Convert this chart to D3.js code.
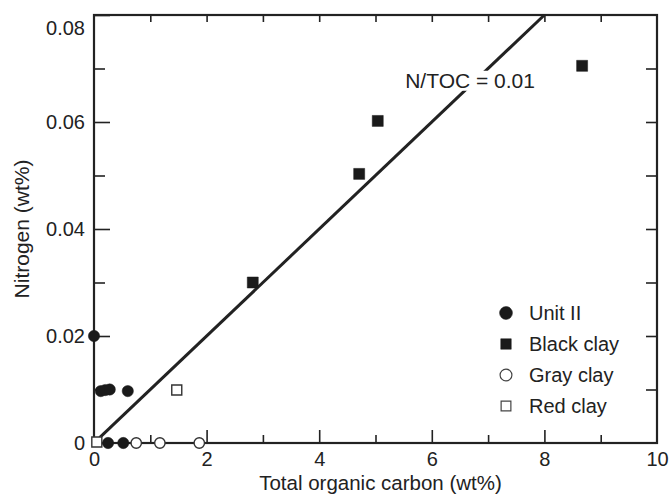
<!DOCTYPE html>
<html>
<head>
<meta charset="utf-8">
<script src="https://cdn.jsdelivr.net/npm/d3@7"></script>
<style>
  html, body { margin: 0; padding: 0; background: #fff; }
  svg { display: block; }
  text { font-family: "Liberation Sans", Arial, Helvetica, sans-serif; fill: #222; }
</style>
</head>
<body>
<svg id="chart" width="670" height="494"></svg>
<script>
// Total organic carbon (wt%) vs nitrogen (wt%) by lithology
const unitII    = [[0, 0.02], [0.12, 0.0097], [0.2, 0.0099], [0.28, 0.0100], [0.6, 0.0097], [0.25, 0], [0.52, 0]];
const blackClay = [[2.82, 0.030], [4.71, 0.0503], [5.04, 0.0602], [8.67, 0.0705]];
const grayClay  = [[0.75, 0], [1.17, 0], [1.87, 0]];
const redClay   = [[0.05, 0.0002], [1.47, 0.0099]];

const ratioLine = [[0.1, 0.001], [8, 0.08]];   // N/TOC = 0.01
const ratioLabel = "N/TOC = 0.01";

const xMajor = [0, 2, 4, 6, 8, 10];
const xMajorLabels = ["0", "2", "4", "6", "8", "10"];
const xMinor = [1, 3, 5, 7, 9];
const yMajor = [0, 0.02, 0.04, 0.06, 0.08];
const yMajorLabels = ["0", "0.02", "0.04", "0.06", "0.08"];
const yMinor = [0.01, 0.03, 0.05, 0.07];
const topTicks = [1, 2, 3, 4, 5, 6, 7, 8, 9];
const rightTicks = [0.01, 0.02, 0.03, 0.04, 0.05, 0.06, 0.07];

const legendNames = ["Unit II", "Black clay", "Gray clay", "Red clay"];

const svg = d3.select("#chart");
const x = d3.scaleLinear().domain([0, 10]).range([94, 657]);
const y = d3.scaleLinear().domain([0, 0.08]).range([443, 15]);

const ink = "#222";

function styleAxis(g) {
  g.selectAll(".tick line").attr("stroke", ink).attr("stroke-width", 1.6);
  g.selectAll(".tick text").attr("font-size", 20).attr("fill", ink)
    .style("font-family", '"Liberation Sans", Arial, sans-serif');
  g.select(".domain").remove();
}

// left axis: major + minor, ticks pointing inward
svg.append("g").attr("transform", `translate(${x(0)},0)`)
  .call(d3.axisLeft(y).tickValues(yMajor).tickSize(-16).tickPadding(9)
    .tickFormat((d, i) => yMajorLabels[i]))
  .call(styleAxis)
  .call(g => g.selectAll(".tick text").filter(d => d === 0.08).attr("dy", "0.32em").attr("y", 13));
svg.append("g").attr("transform", `translate(${x(0)},0)`)
  .call(d3.axisLeft(y).tickValues(yMinor).tickSize(-11).tickFormat(""))
  .call(styleAxis);

// right axis ticks
svg.append("g").attr("transform", `translate(${x(10)},0)`)
  .call(d3.axisRight(y).tickValues(rightTicks).tickSize(-11).tickFormat(""))
  .call(styleAxis);

// bottom axis
svg.append("g").attr("transform", `translate(0,${y(0)})`)
  .call(d3.axisBottom(x).tickValues(xMajor).tickSize(-13).tickPadding(7)
    .tickFormat((d, i) => xMajorLabels[i]))
  .call(styleAxis)
  .call(g => g.selectAll(".tick line").filter(d => d === 0 || d === 10).remove())
  .call(g => g.selectAll(".tick text").attr("dy", "0.8em"));
svg.append("g").attr("transform", `translate(0,${y(0)})`)
  .call(d3.axisBottom(x).tickValues(xMinor).tickSize(-8).tickFormat(""))
  .call(styleAxis);

// top axis ticks
svg.append("g").attr("transform", `translate(0,${y(0.08)})`)
  .call(d3.axisTop(x).tickValues(topTicks).tickSize(-7).tickFormat(""))
  .call(styleAxis);

// frame
svg.append("rect")
  .attr("x", x(0)).attr("y", y(0.08))
  .attr("width", x(10) - x(0)).attr("height", y(0) - y(0.08))
  .attr("fill", "none").attr("stroke", ink).attr("stroke-width", 2.2);

// axis titles
svg.append("text")
  .attr("x", (x(0) + x(10)) / 2 + 5).attr("y", 490)
  .attr("text-anchor", "middle").attr("font-size", 20.5)
  .text("Total organic carbon (wt%)");
svg.append("text")
  .attr("transform", `translate(29,${y(0.04)}) rotate(-90)`)
  .attr("text-anchor", "middle").attr("font-size", 21)
  .text("Nitrogen (wt%)");

// ratio line
const line = d3.line().x(d => x(d[0])).y(d => y(d[1]));
svg.append("path").datum(ratioLine)
  .attr("d", line).attr("fill", "none")
  .attr("stroke", ink).attr("stroke-width", 3);

// label with white backing that breaks the line
const lbl = svg.append("g");
const lblText = lbl.append("text")
  .attr("x", x(6.68)).attr("y", y(0.0664))
  .attr("text-anchor", "middle").attr("font-size", 21)
  .text(ratioLabel);
const bb = lblText.node().getBBox();
lbl.insert("rect", "text")
  .attr("x", bb.x - 2).attr("y", bb.y + 2)
  .attr("width", bb.width + 4).attr("height", bb.height - 3)
  .attr("fill", "#fff");

// markers
const sym = (type, size) => d3.symbol().type(type).size(size)();
const styles = [
  { data: unitII,    path: sym(d3.symbolCircle, 100), fill: "#1a1a1a", stroke: "#1a1a1a", sw: 0.5 },
  { data: blackClay, path: sym(d3.symbolSquare, 121), fill: "#1a1a1a", stroke: "#1a1a1a", sw: 0.5 },
  { data: grayClay,  path: sym(d3.symbolCircle, 85),  fill: "#fff",    stroke: "#333",    sw: 1.4 },
  { data: redClay,   path: sym(d3.symbolSquare, 100), fill: "#fff",    stroke: "#333",    sw: 1.4 }
];
styles.forEach(s => {
  svg.append("g").selectAll("path").data(s.data).join("path")
    .attr("transform", d => `translate(${x(d[0])},${y(d[1])})`)
    .attr("d", s.path)
    .attr("fill", s.fill).attr("stroke", s.stroke).attr("stroke-width", s.sw);
});

// legend
const legendSyms = [
  { path: sym(d3.symbolCircle, 130), fill: "#1a1a1a", stroke: "#1a1a1a", sw: 0.5 },
  { path: sym(d3.symbolSquare, 110), fill: "#1a1a1a", stroke: "#1a1a1a", sw: 0.5 },
  { path: sym(d3.symbolCircle, 110), fill: "#fff", stroke: "#444", sw: 1.2 },
  { path: sym(d3.symbolSquare, 95),  fill: "#fff", stroke: "#444", sw: 1.2 }
];
const leg = svg.append("g").attr("transform", "translate(506,313)");
legendNames.forEach((name, i) => {
  const row = leg.append("g").attr("transform", `translate(0,${i * 31})`);
  row.append("path").attr("d", legendSyms[i].path)
    .attr("fill", legendSyms[i].fill).attr("stroke", legendSyms[i].stroke)
    .attr("stroke-width", legendSyms[i].sw);
  row.append("text").attr("x", 23).attr("y", 0).attr("dy", "0.35em")
    .attr("font-size", 20).text(name);
});
</script>
</body>
</html>
